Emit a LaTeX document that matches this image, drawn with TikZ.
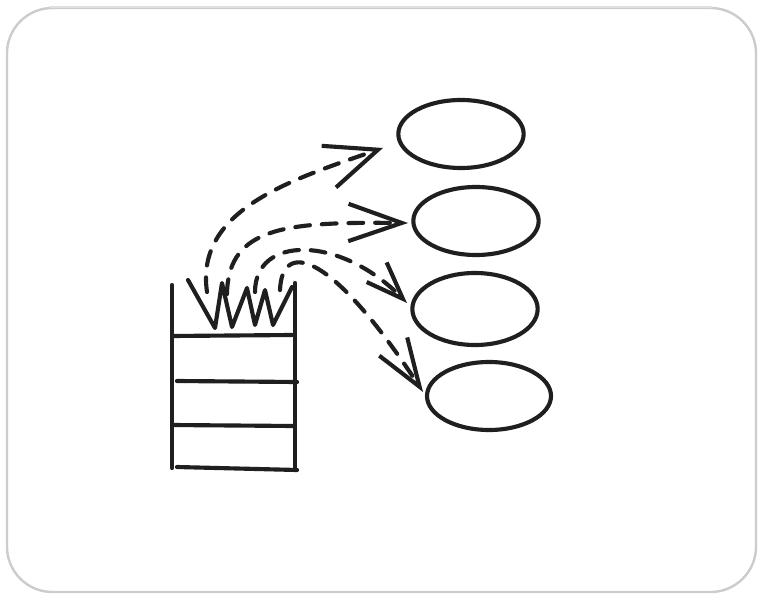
\documentclass[tikz,border=0pt]{standalone}
\usetikzlibrary{arrows.meta,shapes.geometric}
\begin{document}
\begin{tikzpicture}[x=0.75pt,y=-0.75pt,
  ink/.style={draw=black!88, line width=3.1pt, line cap=round, line join=round},
  dashink/.style={ink, dash pattern=on 11pt off 9pt},
  oval/.style={ellipse, ink, minimum width=94pt, minimum height=51pt, inner sep=0pt},
  frame/.style={draw=black!20, line width=1.8pt, fill=white, rounded corners=34pt}]
\useasboundingbox (0,0) rectangle (762,598);
\draw[frame] (7,8) rectangle (756,592);
\draw[draw=black!12, line width=2pt] (50,7) -- (712,7);
% ellipses
\node[oval] (e1) at (461,134) {};
\node[oval] (e2) at (476,221) {};
\node[oval, minimum height=54pt] (e3) at (475,309) {};
\node[oval, minimum width=93pt] (e4) at (489,396) {};
% stack
\draw[ink] (172,285) -- (172,468);
\draw[ink] (295,283) -- (295,470);
\draw[ink] (172,336) -- (292,335);
\draw[ink] (177,381) -- (297,382);
\draw[ink] (172,425) -- (294,426);
\draw[ink] (177,467) -- (297,470);
% flames
\draw[ink] (188,280) -- (215,328) -- (222,283) -- (232,327) -- (247,288) -- (255,325) -- (265,290) -- (273,325) -- (292,287);
% arrow start / tip coordinates
\coordinate (s1) at (207,292);
\coordinate (s2) at (227,294);
\coordinate (s3) at (255,292);
\coordinate (s4) at (280,290);
\coordinate (t1) at (383,148);
\coordinate (t2) at (408,223);
\coordinate (t3) at (407,303);
\coordinate (t4) at (423,392);
\draw[dashink, -{Straight Barb[length=39pt,width=33pt]}] (s1) .. controls (195,210) and (290,180) .. (t1);
\draw[dashink, -{Straight Barb[length=40pt,width=28pt]}] (s2) .. controls (228,225) and (290,222) .. (t2);
\draw[dashink, -{Straight Barb[length=28pt,width=21pt]}] (s3) .. controls (255,235) and (340,235) .. (t3);
\draw[dashink, -{Straight Barb[length=36pt,width=25pt]}] (s4) .. controls (282,240) and (330,250) .. (t4);
\end{tikzpicture}
\end{document}
